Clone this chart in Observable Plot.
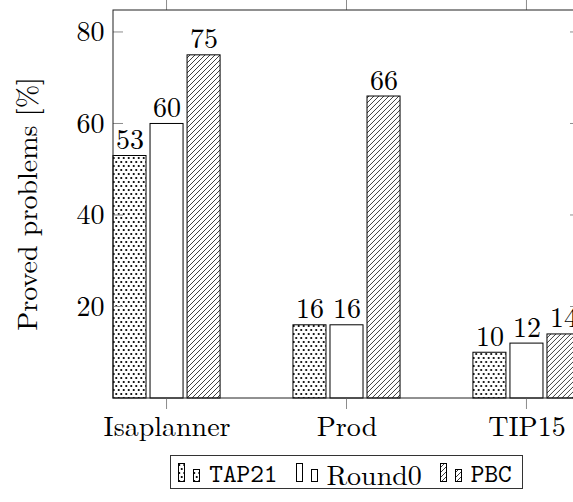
<!DOCTYPE html>
<html>
<head>
<meta charset="utf-8">
<script src="https://cdn.jsdelivr.net/npm/d3@7"></script>
<script src="https://cdn.jsdelivr.net/npm/@observablehq/plot@0.6"></script>
<style>
html, body { margin: 0; padding: 0; background: #fff; overflow: hidden; }
#wrap { width: 600px; position: relative; }
svg [aria-label^='y-axis'] text { font-size: 28px; font-family: 'Latin Modern Roman', 'Liberation Serif', serif; fill: #000; }
svg [aria-label^='fx-axis'] text { font-size: 28px; font-family: 'Latin Modern Roman', 'Liberation Serif', serif; fill: #000; }
#legendRow { margin-left: 113px; width: 467px; display: flex; justify-content: center; margin-top: 5px; }
.legend { display: flex; align-items: center; border: 1px solid #333; height: 32px; padding: 0 10px 0 7px; box-sizing: content-box; }
.entry { display: flex; align-items: center; margin-right: 18px; }
.entry:last-child { margin-right: 0; }
.entry svg { display: block; margin-right: 9px; }
.lbl { line-height: 1; position: relative; top: 1px; }
.mono { font-family: 'Latin Modern Mono', 'DejaVu Sans Mono', monospace; font-size: 26px; }
.serif { font-family: 'Latin Modern Roman', 'Liberation Serif', serif; font-size: 28px; }
</style>
</head>
<body>
<div id="wrap"></div>
<script>
// ---- data ----
const groups = ["Isaplanner", "Prod", "TIP15"];
const seriesNames = ["TAP21", "Round0", "PBC"];
const tap21 = [53, 16, 10];
const round0 = [60, 16, 12];
const pbc = [75, 66, 14];
const yTicks = [20, 40, 60, 80];
const yMax = 84.8;
const yLabel = "Proved problems [%]";
const seriesFills = ["url(#dotsPat)", "white", "url(#nelinesPat)"];
const legendFonts = ["mono", "serif", "mono"];
const serifStack = "'Latin Modern Roman', 'Liberation Serif', serif";

const seriesValues = [tap21, round0, pbc];
const rows = groups.flatMap((g, i) => seriesNames.map((s, j) => ({group: g, series: s, value: seriesValues[j][i]})));

const chart = Plot.plot({
  width: 600,
  height: 450,
  marginLeft: 113,
  marginRight: 20,
  marginTop: 10,
  marginBottom: 52,
  facet: {data: rows, x: "group"},
  fx: {domain: groups, paddingInner: 0.405, paddingOuter: 0, round: false, label: null, tickSize: 0, tickPadding: 18, axis: "bottom"},
  x: {domain: seriesNames, paddingInner: 4 / 37, paddingOuter: 0, round: false, axis: null},
  y: {domain: [0, yMax], ticks: yTicks, tickSize: 0, tickPadding: 9, label: null, tickFormat: d => String(d)},
  color: {domain: seriesNames, range: seriesFills},
  marks: [
    Plot.barY(rows, {x: "series", y: "value", fill: "series", stroke: "black", strokeWidth: 1}),
    Plot.text(rows, {x: "series", y: "value", text: d => String(d.value), lineAnchor: "bottom", dy: -7, fontSize: 28, fontFamily: serifStack, fill: "black"})
  ]
});
document.getElementById("wrap").appendChild(chart);
d3.select(chart).style("font-family", serifStack);

// patterns
const svg = d3.select(chart);
const defs = svg.insert("defs", ":first-child");
const dp = defs.append("pattern").attr("id", "dotsPat").attr("patternUnits", "userSpaceOnUse").attr("width", 5).attr("height", 8);
dp.append("rect").attr("width", 5).attr("height", 8).attr("fill", "white");
dp.append("circle").attr("cx", 1.25).attr("cy", 2).attr("r", 1.1).attr("fill", "black");
dp.append("circle").attr("cx", 3.75).attr("cy", 6).attr("r", 1.1).attr("fill", "black");
const lp = defs.append("pattern").attr("id", "nelinesPat").attr("patternUnits", "userSpaceOnUse").attr("width", 5).attr("height", 5);
lp.append("rect").attr("width", 5).attr("height", 5).attr("fill", "white");
lp.append("path").attr("d", "M-1,1 L1,-1 M0,5 L5,0 M4,6 L6,4").attr("stroke", "black").attr("stroke-width", 0.75);

// frame, ticks, y label
const fx = chart.scale("fx");
const y = chart.scale("y");
const [xL, xR] = fx.range;
const [yB, yT] = y.range;
const g = svg.append("g");
const tickColor = "#8c8c8c";
for (const t of yTicks) {
  const py = y.apply(t);
  g.append("line").attr("x1", xL).attr("x2", xL + 10).attr("y1", py).attr("y2", py).attr("stroke", tickColor);
  g.append("line").attr("x1", xR - 10).attr("x2", xR).attr("y1", py).attr("y2", py).attr("stroke", tickColor);
}
for (const grp of groups) {
  const px = fx.apply(grp) + fx.bandwidth / 2;
  g.append("line").attr("x1", px).attr("x2", px).attr("y1", yT - 10).attr("y2", yT).attr("stroke", tickColor);
  g.append("line").attr("x1", px).attr("x2", px).attr("y1", yB).attr("y2", yB + 11).attr("stroke", tickColor);
}
g.append("rect").attr("x", xL).attr("y", yT).attr("width", xR - xL).attr("height", yB - yT)
  .attr("fill", "none").attr("stroke", "#222").attr("stroke-width", 1);
g.append("text").text(yLabel)
  .attr("transform", `translate(37,${(yB + yT) / 2}) rotate(-90)`)
  .attr("text-anchor", "middle")
  .style("font-family", serifStack).style("font-size", "28px").attr("fill", "black");

// legend
const legendRow = d3.select("#wrap").append("div").attr("id", "legendRow");
const legend = legendRow.append("div").attr("class", "legend");
seriesNames.forEach((s, i) => {
  const e = legend.append("div").attr("class", "entry");
  const sw = e.append("svg").attr("width", 22).attr("height", 19);
  sw.append("rect").attr("x", 0.5).attr("y", 0.5).attr("width", 6).attr("height", 18).attr("fill", seriesFills[i]).attr("stroke", "black");
  sw.append("rect").attr("x", 15.5).attr("y", 6.5).attr("width", 6).attr("height", 12).attr("fill", seriesFills[i]).attr("stroke", "black");
  e.append("span").attr("class", "lbl " + legendFonts[i]).text(s);
});
</script>
</body>
</html>
